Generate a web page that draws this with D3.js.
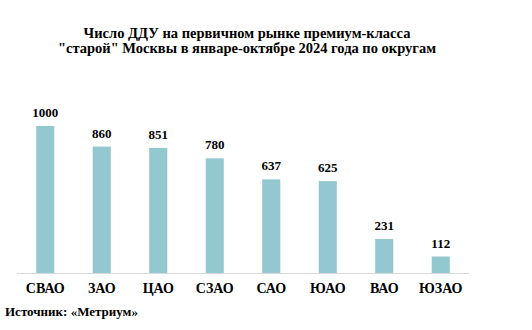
<!DOCTYPE html>
<html>
<head>
<meta charset="utf-8">
<script src="https://cdn.jsdelivr.net/npm/d3@7"></script>
<style>
  svg { font-family: 'Liberation Serif', serif; }
</style>
</head>
<body style="margin:0">
<svg id="chart" width="532" height="330" font-family="Liberation Serif"></svg>
<script>
// Число ДДУ по округам "старой" Москвы, январь–октябрь 2024
const districts = ["СВАО", "ЗАО", "ЦАО", "СЗАО", "САО", "ЮАО", "ВАО", "ЮЗАО"];
const dealCounts = [1000, 860, 851, 780, 637, 625, 231, 112];
const titleLines = [
  "Число ДДУ на первичном рынке премиум-класса",
  "\"старой\" Москвы в январе-октябре 2024 года по округам"
];
const sourceText = "Источник: «Метриум»";

const svg = d3.select("#chart");

const x = d3.scaleBand()
  .domain(districts)
  .range([17, 469])
  .paddingInner(0.68)
  .paddingOuter(0.34);

const y = d3.scaleLinear()
  .domain([0, 1000])
  .range([273, 126]);

function boldText(sel, size) {
  return sel.attr("font-family", "Liberation Serif")
    .attr("font-weight", "bold")
    .attr("font-size", size)
    .attr("fill", "#000");
}

// Title
svg.append("g")
  .selectAll("text")
  .data(titleLines)
  .join("text")
  .attr("x", 247)
  .attr("y", (d, i) => 38 + i * 15)
  .attr("text-anchor", "middle")
  .call(boldText, 14.5)
  .text(d => d);

// Bars
svg.append("g")
  .selectAll("rect")
  .data(dealCounts)
  .join("rect")
  .attr("x", (d, i) => x(districts[i]))
  .attr("width", x.bandwidth())
  .attr("y", d => y(d))
  .attr("height", d => y(0) - y(d))
  .attr("fill", "#94c8d0");

// Value labels
svg.append("g")
  .selectAll("text")
  .data(dealCounts)
  .join("text")
  .attr("x", (d, i) => x(districts[i]) + x.bandwidth() / 2)
  .attr("y", d => y(d) - 9)
  .attr("text-anchor", "middle")
  .call(boldText, 13)
  .text(d => d);

// Category axis
const axis = svg.append("g")
  .attr("transform", `translate(0,${y(0)})`)
  .call(d3.axisBottom(x).tickSize(0).tickPadding(10))
  .attr("font-family", "Liberation Serif");
axis.select(".domain")
  .attr("stroke", "#d9d9d9")
  .attr("stroke-width", 1)
  .attr("d", `M${x.range()[0]},0.5H${x.range()[1]}`);
axis.selectAll(".tick text")
  .call(boldText, 14);

// Source note
svg.append("text")
  .attr("x", 5)
  .attr("y", 316)
  .call(boldText, 13)
  .text(sourceText);
</script>
</body>
</html>
